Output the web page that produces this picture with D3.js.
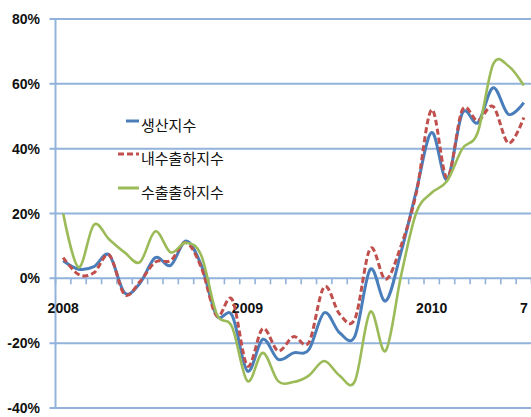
<!DOCTYPE html>
<html>
<head>
<meta charset="utf-8">
<script src="https://cdn.jsdelivr.net/npm/d3@7"></script>
<style>
  html, body { margin: 0; padding: 0; background: #fff; }
  svg { display: block; }
</style>
</head>
<body>
<svg id="chart" width="531" height="417"></svg>
<script>
// Monthly categories, Jan 2008 – Jul 2010
const months = [
  "2008.01","2008.02","2008.03","2008.04","2008.05","2008.06","2008.07","2008.08","2008.09","2008.10","2008.11","2008.12",
  "2009.01","2009.02","2009.03","2009.04","2009.05","2009.06","2009.07","2009.08","2009.09","2009.10","2009.11","2009.12",
  "2010.01","2010.02","2010.03","2010.04","2010.05","2010.06","2010.07"
];
// Category labels shown under the zero line
const labelMonths = ["2008.01", "2009.01", "2010.01", "2010.07"];
const labelTexts  = ["2008", "2009", "2010", "7"];

// Year-on-year change, %
const production = [5.4, 2.8, 3.6, 7.2, -4.5, -1.5, 6.4, 4.0, 11.5, 4.0, -11.5, -11.4,
  -28.6, -18.8, -25.0, -23.0, -22.0, -10.6, -16.8, -17.8, 2.8, -7.0, 8.0, 27.0,
  45.0, 30.5, 51.0, 48.0, 58.8, 50.6, 54.2];
const domestic = [6.4, 1.2, 1.7, 7.2, -5.0, -1.0, 5.0, 5.5, 11.0, 3.3, -11.6, -6.5,
  -27.0, -15.5, -22.4, -18.0, -19.8, -2.6, -11.0, -12.5, 9.2, -0.3, 10.0, 26.4,
  52.0, 31.0, 52.0, 48.6, 53.0, 41.7, 49.6];
const exportShip = [20.0, 3.4, 16.5, 12.0, 8.0, 5.0, 14.5, 8.0, 11.0, 7.0, -11.0, -15.0,
  -31.7, -23.0, -31.7, -32.0, -30.0, -25.5, -30.0, -31.7, -10.3, -22.4, 0.7, 20.3,
  26.4, 30.0, 40.0, 45.0, 66.0, 65.5, 59.5];

const seriesNames = ["생산지수", "내수출하지수", "수출출하지수"];
const yTicks = [-40, -20, 0, 20, 40, 60, 80];

const series = [
  { name: seriesNames[0], values: production, color: "#4a7ebb", width: 3, dash: null },
  { name: seriesNames[1], values: domestic,   color: "#c0504d", width: 3, dash: "6,3" },
  { name: seriesNames[2], values: exportShip, color: "#9bbb59", width: 2.6, dash: null }
];

const svg = d3.select("#chart");
const plotLeft = 55.5, plotRight = 531.5, plotTop = 19, plotBottom = 408;
const gridColor = "#92b2dc";

const x = d3.scaleBand().domain(months).range([plotLeft, plotRight]);
const y = d3.scaleLinear().domain([-40, 80]).range([plotBottom, plotTop]);
const cx = m => x(m) + x.bandwidth() / 2;

// Horizontal gridlines with small ticks left of the axis
const grid = svg.append("g");
grid.selectAll("line.h").data(yTicks).join("line")
  .attr("x1", plotLeft - 6).attr("x2", plotRight)
  .attr("y1", d => y(d)).attr("y2", d => y(d))
  .attr("stroke", gridColor).attr("stroke-width", 2);

// Value axis line
grid.append("line")
  .attr("x1", plotLeft).attr("x2", plotLeft)
  .attr("y1", plotTop).attr("y2", plotBottom + 1)
  .attr("stroke", gridColor).attr("stroke-width", 2);

// Category tick marks hanging from the zero line
const boundaries = months.map(m => x(m)).concat([plotRight]);
grid.selectAll("line.t").data(boundaries).join("line")
  .attr("x1", d => d).attr("x2", d => d)
  .attr("y1", y(0)).attr("y2", y(0) + 6)
  .attr("stroke", gridColor).attr("stroke-width", 1.6);

// Value axis labels
svg.append("g").selectAll("text").data(yTicks).join("text")
  .attr("x", 40).attr("y", d => y(d))
  .attr("text-anchor", "end").attr("dominant-baseline", "central")
  .attr("font-family", "Liberation Sans, Arial, sans-serif")
  .attr("font-weight", "bold").attr("font-size", 14).attr("fill", "#111")
  .text(d => d + "%");

// Category labels
svg.append("g").selectAll("text").data(labelMonths).join("text")
  .attr("x", m => cx(m)).attr("y", y(0) + 35)
  .attr("text-anchor", "middle")
  .attr("font-family", "Liberation Sans, Arial, sans-serif")
  .attr("font-weight", "bold").attr("font-size", 14).attr("fill", "#111")
  .text((m, i) => labelTexts[i]);

// Smoothed series lines
const line = d3.line()
  .x((d, i) => cx(months[i]))
  .y(d => y(d))
  .curve(d3.curveCardinal.tension(0));

svg.append("g").selectAll("path").data(series).join("path")
  .attr("d", s => line(s.values))
  .attr("fill", "none")
  .attr("stroke", s => s.color)
  .attr("stroke-width", s => s.width)
  .attr("stroke-dasharray", s => s.dash)
  .attr("stroke-linejoin", "round");

// Legend
const legendRows = [
  { y: 124, x1: 126 },
  { y: 157, x1: 118 },
  { y: 191, x1: 118 }
];
const legend = svg.append("g");
series.forEach((s, i) => {
  const r = legendRows[i];
  legend.append("line")
    .attr("x1", r.x1).attr("x2", 139)
    .attr("y1", r.y - 3).attr("y2", r.y - 3)
    .attr("stroke", s.color).attr("stroke-width", 3)
    .attr("stroke-dasharray", s.dash);
  legend.append("text")
    .attr("x", 141).attr("y", r.y)
    .attr("dominant-baseline", "central")
    .attr("font-family", "Noto Sans CJK KR, sans-serif")
    .attr("font-size", 15).attr("fill", "#111")
    .text(s.name);
});
</script>
</body>
</html>
